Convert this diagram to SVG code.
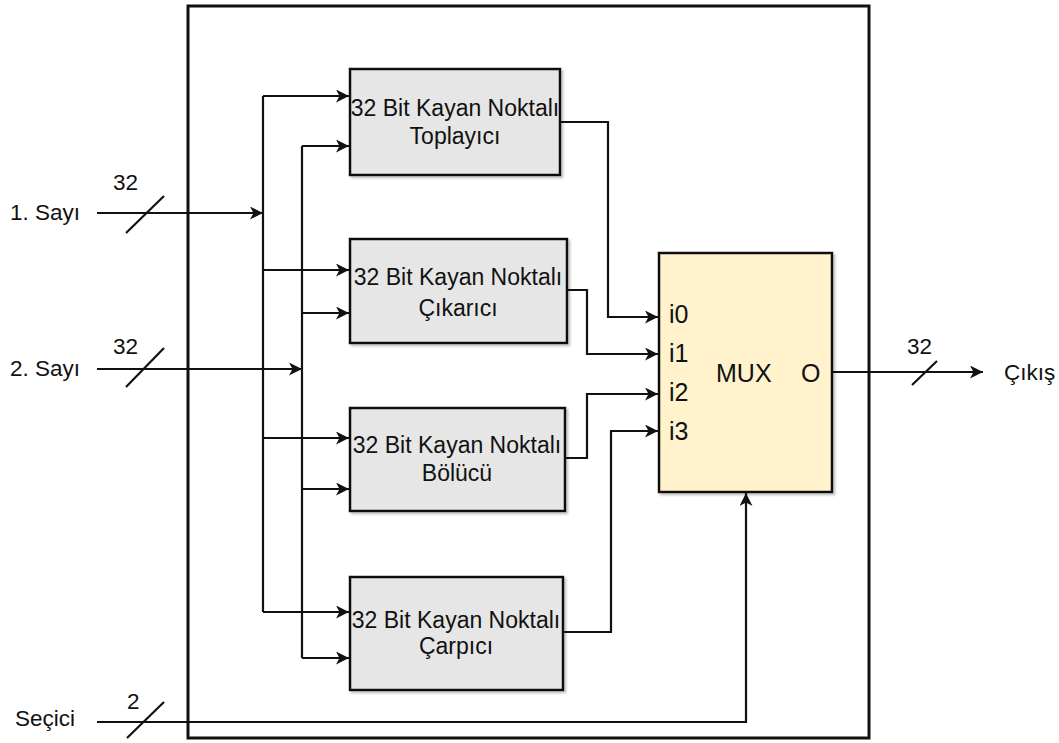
<svg xmlns="http://www.w3.org/2000/svg" width="1059" height="743" viewBox="0 0 1059 743">
<style>
  text { font-family: "Liberation Sans", Arial, sans-serif; fill: #111; }
  .lbl { font-size: 22.5px; }
  .box { fill: #e6e6e6; stroke: #111; stroke-width: 2.5; filter: url(#sh); }
  .mux { fill: #fff2cc; stroke: #111; stroke-width: 2.5; filter: url(#sh); }
  .wire { fill: none; stroke: #111; stroke-width: 2.2; }
  .arr { marker-end: url(#ah); }
  .bt { font-size: 23px; text-anchor: middle; }
  .mt { font-size: 25px; }
</style>
<defs>
  <marker id="ah" markerUnits="userSpaceOnUse" markerWidth="14" markerHeight="14" refX="13" refY="6.5" orient="auto">
    <path d="M0,0 L13,6.5 L0,13 L3.5,6.5 z" fill="#111"/>
  </marker>
  <filter id="sh" x="-5%" y="-5%" width="115%" height="115%">
    <feDropShadow dx="2" dy="2" stdDeviation="1" flood-color="#999" flood-opacity="0.6"/>
  </filter>
</defs>
<rect width="1059" height="743" fill="#fff"/>
<g id="frame">
  <rect x="188" y="6" width="681" height="732" fill="none" stroke="#111" stroke-width="3"/>
</g>
<g id="toplayici">
  <rect class="box" x="350" y="69" width="210" height="106"/>
  <text class="bt" x="455" y="116">32 Bit Kayan Noktalı</text>
  <text class="bt" x="455" y="144">Toplayıcı</text>
</g>
<g id="cikarici">
  <rect class="box" x="350" y="239" width="217" height="104"/>
  <text class="bt" x="458" y="285">32 Bit Kayan Noktalı</text>
  <text class="bt" x="458" y="316">Çıkarıcı</text>
</g>
<g id="bolucu">
  <rect class="box" x="350" y="408" width="215" height="103"/>
  <text class="bt" x="457" y="453">32 Bit Kayan Noktalı</text>
  <text class="bt" x="457" y="481">Bölücü</text>
</g>
<g id="carpici">
  <rect class="box" x="350" y="577" width="213" height="113"/>
  <text class="bt" x="456" y="628">32 Bit Kayan Noktalı</text>
  <text class="bt" x="456" y="654">Çarpıcı</text>
</g>
<g id="mux">
  <rect class="mux" x="659" y="253" width="173" height="239"/>
  <text class="mt" x="669" y="323">i0</text>
  <text class="mt" x="669" y="362">i1</text>
  <text class="mt" x="669" y="401">i2</text>
  <text class="mt" x="669" y="440">i3</text>
  <text class="mt" x="716" y="382">MUX</text>
  <text class="mt" x="801" y="382">O</text>
</g>
<g id="inputs">
  <text class="lbl" x="10" y="220">1. Sayı</text>
  <text class="lbl" x="113" y="190">32</text>
  <text class="lbl" x="10" y="376">2. Sayı</text>
  <text class="lbl" x="113" y="354">32</text>
  <text class="lbl" x="15" y="726">Seçici</text>
  <text class="lbl" x="127" y="709">2</text>
</g>
<g id="output">
  <text class="lbl" x="907" y="354">32</text>
  <text class="lbl" x="1004" y="380">Çıkış</text>
</g>
<g id="connectors">
  <path class="wire arr" d="M97,213 H263"/>
  <path class="wire arr" d="M97,369 H302"/>
  <path class="wire" d="M263,96 V612"/>
  <path class="wire" d="M302,146 V658"/>
  <path class="wire arr" d="M263,96 H349"/>
  <path class="wire arr" d="M263,270 H349"/>
  <path class="wire arr" d="M263,438 H349"/>
  <path class="wire arr" d="M263,612 H349"/>
  <path class="wire arr" d="M302,146 H349"/>
  <path class="wire arr" d="M302,313 H349"/>
  <path class="wire arr" d="M302,489 H349"/>
  <path class="wire arr" d="M302,658 H349"/>
  <path class="wire arr" d="M560,122 H608 V317 H658"/>
  <path class="wire arr" d="M567,290 H587 V354 H658"/>
  <path class="wire arr" d="M565,458 H587 V394 H658"/>
  <path class="wire arr" d="M563,632 H611 V431 H658"/>
  <path class="wire arr" d="M832,372 H983"/>
  <path class="wire arr" d="M97,722 H746 V493"/>
  <path class="wire" d="M126,233 L164,196"/>
  <path class="wire" d="M126,387 L164,348"/>
  <path class="wire" d="M127,738 L164,702"/>
  <path class="wire" d="M912,385 L937,361"/>
</g>
</svg>
